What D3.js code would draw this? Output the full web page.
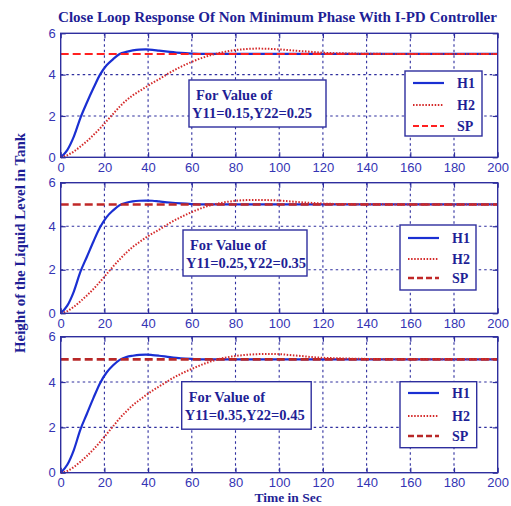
<!DOCTYPE html>
<meta charset="utf-8">
<title>Close Loop Response</title>
<style>
body { margin: 0; background: #fff; }
svg { display: block; }
.tick text { font-family: "Liberation Sans", Arial, sans-serif; font-size: 13px; fill: #3434b4; }
.tick line { stroke: #2e2e9e; stroke-width: 1.2; }
.grid line { stroke: #2e2e9e; stroke-width: 1.1; stroke-dasharray: 2.5,3; }
.lbl { font-family: "Liberation Serif", "Times New Roman", serif; font-weight: bold; fill: #1f1f96; }
</style>
<body>
<svg width="511" height="506"></svg>
<script src="https://d3js.org/d3.v7.min.js"></script>
<script>

// data
var times = [0, 3, 6, 9, 12, 15, 18, 21, 24, 27, 30, 33, 36, 39, 42, 45, 50, 55, 60, 65, 70, 75, 80, 85, 90, 95, 100, 105, 110, 115, 120, 130, 140, 160, 180, 200];

var h1A = [0, 0.35, 1.0, 1.9, 2.65, 3.35, 4.0, 4.45, 4.75, 5.0, 5.1, 5.17, 5.21, 5.22, 5.2, 5.16, 5.1, 5.05, 5.02, 5.0, 5.0, 5.0, 5.0, 5.0, 5.0, 5.0, 5.0, 5.0, 5.0, 5.0, 5.0, 5.0, 5.0, 5.0, 5.0, 5.0];
var h2A = [0, 0.1, 0.28, 0.52, 0.78, 1.08, 1.4, 1.75, 2.1, 2.45, 2.75, 3.0, 3.2, 3.4, 3.6, 3.78, 4.1, 4.38, 4.62, 4.82, 4.98, 5.1, 5.19, 5.24, 5.26, 5.25, 5.22, 5.18, 5.14, 5.1, 5.06, 5.03, 5.01, 5.0, 5.0, 5.0];

var h1B = [0, 0.35, 1.0, 1.9, 2.6, 3.3, 3.95, 4.42, 4.73, 4.97, 5.08, 5.14, 5.17, 5.18, 5.17, 5.14, 5.09, 5.05, 5.02, 5.0, 5.0, 5.0, 5.0, 5.0, 5.0, 5.0, 5.0, 5.0, 5.0, 5.0, 5.0, 5.0, 5.0, 5.0, 5.0, 5.0];
var h2B = [0, 0.1, 0.3, 0.55, 0.82, 1.12, 1.45, 1.8, 2.15, 2.48, 2.78, 3.05, 3.27, 3.48, 3.67, 3.84, 4.15, 4.42, 4.65, 4.85, 5.0, 5.1, 5.17, 5.2, 5.21, 5.2, 5.18, 5.14, 5.1, 5.07, 5.04, 5.02, 5.01, 5.0, 5.0, 5.0];

var h1C = [0, 0.35, 1.0, 1.9, 2.6, 3.3, 3.95, 4.42, 4.74, 4.98, 5.1, 5.16, 5.2, 5.21, 5.19, 5.16, 5.1, 5.05, 5.02, 5.0, 5.0, 5.0, 5.0, 5.0, 5.0, 5.0, 5.0, 5.0, 5.0, 5.0, 5.0, 5.0, 5.0, 5.0, 5.0, 5.0];
var h2C = [0, 0.08, 0.25, 0.48, 0.74, 1.03, 1.35, 1.7, 2.05, 2.4, 2.7, 2.98, 3.2, 3.42, 3.62, 3.8, 4.1, 4.36, 4.58, 4.78, 4.95, 5.07, 5.15, 5.2, 5.23, 5.24, 5.23, 5.19, 5.15, 5.1, 5.07, 5.04, 5.02, 5.0, 5.0, 5.0];

var setPoint = 5;
var xTickValues = [0, 20, 40, 60, 80, 100, 120, 140, 160, 180, 200];
var yTickValues = [0, 2, 4, 6];
var legendNames = ["H1", "H2", "SP"];
var captions = ["Y11=0.15,Y22=0.25", "Y11=0.25,Y22=0.35", "Y11=0.35,Y22=0.45"];
var h1Series = [h1A, h1B, h1C];
var h2Series = [h2A, h2B, h2C];

// layout of the three panels (pixels)
var left = 60.7, right = 497.7;
var panels = [
  {top: 33.3, bottom: 157.3, box: [189, 80, 137, 47], leg: [405, 71, 77, 65], rows: [83, 105, 126], sp: "#ff2020", spw: 2},
  {top: 182.7, bottom: 313.3, box: [183, 230, 124, 46], leg: [400, 225, 76, 65], rows: [238, 259, 278], sp: "#c02828", spw: 2.6},
  {top: 336.7, bottom: 472.7, box: [181.7, 381.7, 129.5, 47.5], leg: [400, 381.7, 76.7, 66], rows: [393, 416, 436], sp: "#b82828", spw: 2.6}
];

var svg = d3.select("svg");
var navy = "#2e2e9e";

var x = d3.scaleLinear().domain([0, 200]).range([left, right]);

panels.forEach(function(p, i) {
  var y = d3.scaleLinear().domain([0, 6]).range([p.bottom, p.top]);
  var g = svg.append("g");

  // grid
  g.append("g").attr("class", "grid")
    .selectAll("line").data(xTickValues.slice(1, -1)).enter().append("line")
    .attr("x1", function(d) { return x(d); }).attr("x2", function(d) { return x(d); })
    .attr("y1", p.top).attr("y2", p.bottom);
  g.append("g").attr("class", "grid")
    .selectAll("line").data(yTickValues.slice(1, -1)).enter().append("line")
    .attr("y1", function(d) { return y(d); }).attr("y2", function(d) { return y(d); })
    .attr("x1", left).attr("x2", right);

  // axes
  g.append("g").attr("transform", "translate(0," + p.bottom + ")")
    .call(d3.axisBottom(x).tickValues(xTickValues).tickFormat(d3.format("d"))
      .tickSizeInner(-5).tickSizeOuter(0).tickPadding(5))
    .select(".domain").remove();
  g.append("g").attr("transform", "translate(" + left + ",0)")
    .call(d3.axisLeft(y).tickValues(yTickValues).tickFormat(d3.format("d"))
      .tickSizeInner(-5).tickSizeOuter(0).tickPadding(5))
    .select(".domain").remove();
  g.append("g").attr("transform", "translate(0," + p.top + ")")
    .call(d3.axisTop(x).tickValues(xTickValues).tickSizeInner(-5).tickSizeOuter(0).tickFormat(""))
    .select(".domain").remove();
  g.append("g").attr("transform", "translate(" + right + ",0)")
    .call(d3.axisRight(y).tickValues(yTickValues).tickSizeInner(-5).tickSizeOuter(0).tickFormat(""))
    .select(".domain").remove();

  var line = d3.line()
    .x(function(d, k) { return x(times[k]); })
    .y(function(d) { return y(d); })
    .curve(d3.curveMonotoneX);

  g.append("path").datum(h1Series[i])
    .attr("d", line).attr("fill", "none")
    .attr("stroke", "#1a2fd2").attr("stroke-width", 2.2);
  g.append("line")
    .attr("x1", x(0)).attr("x2", x(200))
    .attr("y1", y(setPoint)).attr("y2", y(setPoint))
    .attr("stroke", p.sp).attr("stroke-width", p.spw).attr("stroke-dasharray", "8,4");
  g.append("path").datum(h2Series[i])
    .attr("d", line).attr("fill", "none")
    .attr("stroke", "#d42a2a").attr("stroke-width", 2).attr("stroke-dasharray", "1.5,1.6");

  // frame
  g.append("rect").attr("x", left).attr("y", p.top)
    .attr("width", right - left).attr("height", p.bottom - p.top)
    .attr("fill", "none").attr("stroke", navy).attr("stroke-width", 1.4);

  // caption box
  g.append("rect").attr("x", p.box[0]).attr("y", p.box[1])
    .attr("width", p.box[2]).attr("height", p.box[3])
    .attr("fill", "#fff").attr("stroke", navy).attr("stroke-width", 1.4);
  g.append("text").attr("class", "lbl").attr("font-size", 14.5)
    .attr("x", p.box[0] + 7).attr("y", p.box[1] + 20).text("For Value of");
  g.append("text").attr("class", "lbl").attr("font-size", 14.5)
    .attr("x", p.box[0] + 3).attr("y", p.box[1] + 38).text(captions[i]);

  // legend
  g.append("rect").attr("x", p.leg[0]).attr("y", p.leg[1])
    .attr("width", p.leg[2]).attr("height", p.leg[3])
    .attr("fill", "#fff").attr("stroke", navy).attr("stroke-width", 1.4);
  var styles = [
    {c: "#1a2fd2", w: 2.2, d: null},
    {c: "#d42a2a", w: 2, d: "1.5,1.6"},
    {c: p.sp, w: p.spw, d: "6,3"}
  ];
  legendNames.forEach(function(name, k) {
    g.append("line")
      .attr("x1", p.leg[0] + 8).attr("x2", p.leg[0] + 39)
      .attr("y1", p.rows[k]).attr("y2", p.rows[k])
      .attr("stroke", styles[k].c).attr("stroke-width", styles[k].w)
      .attr("stroke-dasharray", styles[k].d);
    g.append("text").attr("class", "lbl").attr("font-size", 14)
      .attr("x", p.leg[0] + 52).attr("y", p.rows[k] + 5).text(name);
  });
});

// titles
svg.append("text").attr("class", "lbl").attr("font-size", 14)
  .attr("x", 58).attr("y", 22)
  .attr("textLength", 439).attr("lengthAdjust", "spacingAndGlyphs")
  .text("Close Loop Response Of Non Minimum Phase With I-PD Controller");

svg.append("text").attr("class", "lbl").attr("font-size", 13.5)
  .attr("text-anchor", "middle")
  .attr("x", 288).attr("y", 502)
  .text("Time in Sec");

svg.append("text").attr("class", "lbl").attr("font-size", 14)
  .attr("text-anchor", "middle")
  .attr("transform", "translate(25,243) rotate(-90)")
  .attr("textLength", 220).attr("lengthAdjust", "spacingAndGlyphs")
  .text("Height of the Liquid Level in Tank");

</script>
</body>
